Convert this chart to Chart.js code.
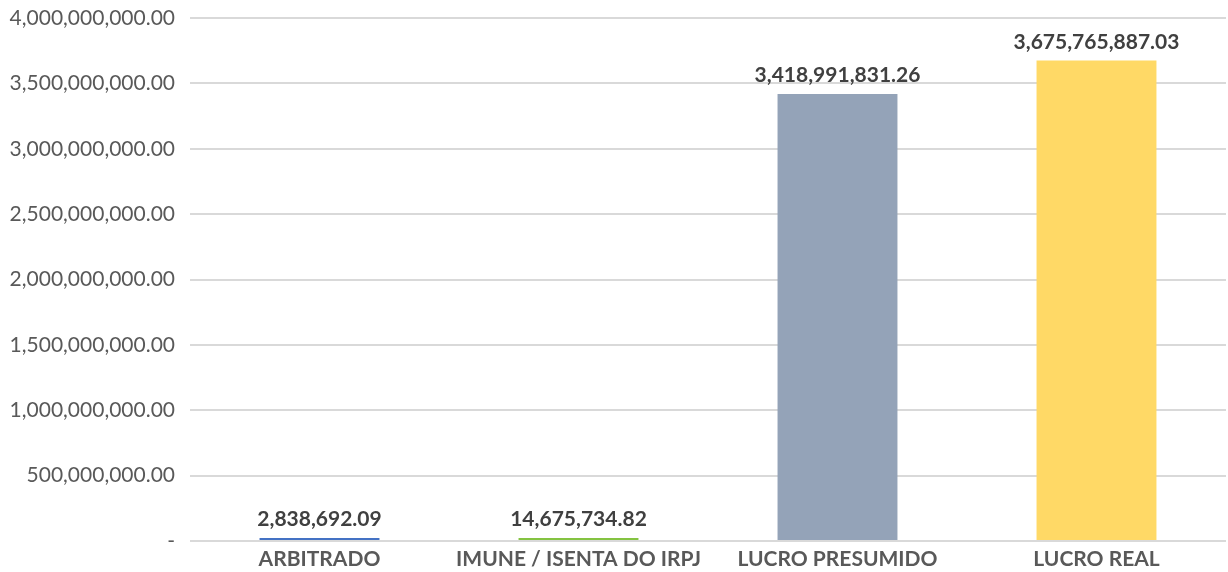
<!DOCTYPE html>
<html>
<head>
<meta charset="utf-8">
<script src="https://cdn.jsdelivr.net/npm/chart.js@4"></script>
<style>
html,body{margin:0;padding:0;background:#fff;}
#wrap{width:1228px;height:572px;position:relative;}
</style>
</head>
<body>
<div id="wrap"><canvas id="c" width="1228" height="572"></canvas></div>
<script>
const categories = ["ARBITRADO", "IMUNE / ISENTA DO IRPJ", "LUCRO PRESUMIDO", "LUCRO REAL"];
const values = [2838692.09, 14675734.82, 3418991831.26, 3675765887.03];
const barColors = ["#4472C4", "#84C341", "#94A3B8", "#FFD966"];
const yTicks = [0, 500000000, 1000000000, 1500000000, 2000000000, 2500000000, 3000000000, 3500000000, 4000000000];

function fmt(v){
  if (v === 0) return "-";
  return v.toLocaleString("en-US", {minimumFractionDigits: 2, maximumFractionDigits: 2});
}

const labelPlugin = {
  id: "valueLabels",
  afterDatasetsDraw(chart){
    const ctx = chart.ctx;
    const meta = chart.getDatasetMeta(0);
    ctx.save();
    ctx.font = "bold 21px Lato";
    ctx.fillStyle = "#404040";
    ctx.textAlign = "center";
    ctx.textBaseline = "bottom";
    meta.data.forEach((bar, i) => {
      ctx.fillText(fmt(values[i]), bar.x, bar.y - 8);
    });
    ctx.restore();
  }
};

new Chart(document.getElementById("c"), {
  type: "bar",
  data: {
    labels: categories,
    datasets: [{
      data: values,
      backgroundColor: barColors,
      borderWidth: 0,
      categoryPercentage: 1,
      barPercentage: 0.463,
      minBarLength: 3
    }]
  },
  options: {
    responsive: false,
    animation: false,
    devicePixelRatio: 1,
    layout: { padding: { top: 18, right: 2, left: 0, bottom: 0 } },
    plugins: { legend: { display: false }, tooltip: { enabled: false } },
    scales: {
      x: {
        grid: { display: false, drawTicks: false },
        border: { display: false },
        ticks: { font: { family: "Lato", size: 21, weight: "bold" }, color: "#595959", padding: 6, maxRotation: 0 },
        afterFit(s){ s.height = 31; s.paddingLeft = 0; s.paddingRight = 0; }
      },
      y: {
        min: 0, max: 4000000000,
        afterBuildTicks(s){ s.ticks = yTicks.map(v => ({value: v})); },
        grid: { color: "#D9D9D9", lineWidth: 2, drawTicks: false },
        border: { display: false },
        ticks: { font: { family: "Lato", size: 21 }, color: "#595959", padding: 15, callback: v => fmt(v) },
        afterFit(s){ s.width = 190; s.paddingTop = 0; s.paddingBottom = 0; }
      }
    }
  },
  plugins: [labelPlugin]
});
</script>
</body>
</html>
